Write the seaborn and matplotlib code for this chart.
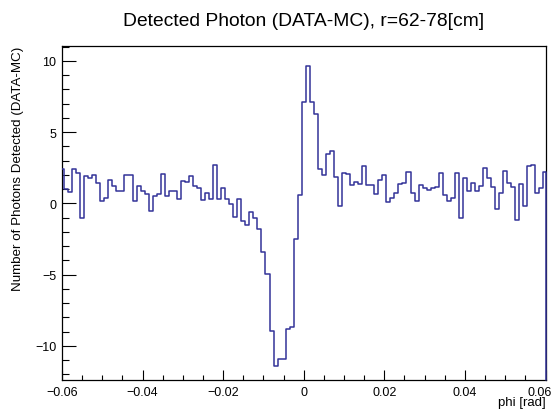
import numpy as np
import pandas as pd
import matplotlib
matplotlib.use("Agg")
import matplotlib.pyplot as plt
import matplotlib.transforms as mtransforms
import seaborn as sns
from matplotlib.ticker import MultipleLocator

# ---- data -------------------------------------------------------------
# bin centres of the phi histogram (rad), 121 bins of width 0.001
phi_centers = np.round(np.arange(-60, 61) * 0.001, 4)
bin_width = 0.001

# DATA - MC difference per bin
diff = [
    2.39, 1.03, 0.80, 2.44, 2.16, -1.00, 1.92, 1.81, 1.97, 1.46,
    0.16, 0.40, 1.64, 1.22, 0.87, 0.87, 1.97, 1.97, 0.16, 1.22,
    0.85, 0.63, -0.54, 0.52, 0.63, 2.04, 0.55, 0.85, 0.90, 0.30,
    1.60, 1.50, 1.90, 1.20, 1.10, 0.25, 0.72, 0.28, 2.70, 0.28,
    1.08, 0.28, -0.07, -0.98, 0.34, -1.25, -1.55, -0.58, -1.03, -1.80,
    -3.43, -4.93, -8.95, -11.40, -10.90, -10.90, -8.80, -8.70, -2.52, 0.62,
    7.10, 9.67, 7.10, 6.30, 2.40, 2.02, 3.45, 3.70, 1.85, -0.19,
    2.15, 2.05, 1.27, 1.52, 1.36, 2.60, 1.30, 1.27, 0.66, 1.66,
    2.02, 0.10, 0.40, 0.75, 1.34, 1.41, 2.20, 0.75, 0.16, 1.27,
    1.10, 0.94, 1.06, 1.18, 2.16, 0.56, 0.16, 0.40, 2.14, -1.00,
    1.79, 0.86, 1.40, 0.90, 1.20, 2.48, 1.79, 1.16, -0.40, 0.75,
    2.30, 1.46, 1.16, -1.20, 1.38, -0.19, 2.60, 2.70, 0.75, 1.10,
    2.20,
]

title = "Detected Photon (DATA-MC), r=62-78[cm]"
xlabel = "phi [rad]"
ylabel = "Number of Photons Detected (DATA-MC)"
x_ticks = [-0.06, -0.04, -0.02, 0.0, 0.02, 0.04, 0.06]
x_tick_labels = ["\u22120.06", "\u22120.04", "\u22120.02", "0", "0.02", "0.04", "0.06"]
y_ticks = [-10, -5, 0, 5, 10]

# ---- style ------------------------------------------------------------
sns.set_theme(style="ticks")
plt.rcParams["font.family"] = ["Liberation Sans", "DejaVu Sans"]
plt.rcParams["axes.unicode_minus"] = True
plt.rcParams["text.color"] = "black"
plt.rcParams["axes.labelcolor"] = "black"

XMIN, XMAX = -0.06, 0.06
YMIN, YMAX = -12.4, 11.05
LINE_COLOR = "#333399"

fig = plt.figure(figsize=(5.56, 4.10), dpi=100)
ax = fig.add_axes([62 / 556, 1 - 381 / 410, (545.5 - 62) / 556, (381 - 47) / 410])

df = pd.DataFrame({"phi": phi_centers, "diff": diff})
edges = [float(e) for e in np.append(phi_centers - bin_width / 2,
                                     phi_centers[-1] + bin_width / 2)]
sns.histplot(data=df, x="phi", weights="diff", bins=edges, element="step",
             fill=False, color=LINE_COLOR, linewidth=1.1, ax=ax, zorder=3)

ax.set_xlim(XMIN, XMAX)
ax.set_ylim(YMIN, YMAX)

# outline drop at the right frame edge (ROOT style)
ax.plot([XMAX, XMAX], [YMIN, diff[-1]], color=LINE_COLOR, linewidth=1.1,
        clip_on=False, zorder=4)

for s in ["left", "right", "top", "bottom"]:
    ax.spines[s].set_visible(True)
    ax.spines[s].set_color("black")
    ax.spines[s].set_linewidth(0.9)

ax.set_xticks(x_ticks)
ax.set_xticklabels(x_tick_labels)
ax.set_yticks(y_ticks)
ax.xaxis.set_minor_locator(MultipleLocator(0.005))
ax.yaxis.set_minor_locator(MultipleLocator(1))
ax.tick_params(axis="both", which="both", direction="in", top=False, right=False,
               labelsize=9, colors="black", width=0.8)
ax.tick_params(axis="x", which="major", length=7.2, pad=4)
ax.tick_params(axis="x", which="minor", length=3.6)
ax.tick_params(axis="y", which="major", length=10.3, pad=4)
ax.tick_params(axis="y", which="minor", length=5.0)

# keep the last x tick label inside the figure
last = ax.get_xticklabels()[-1]
last.set_transform(last.get_transform() +
                   mtransforms.ScaledTranslation(-6 / 100, 0, fig.dpi_scale_trans))

ax.set_xlabel(xlabel, fontsize=9.5, loc="right", color="black")
ax.xaxis.set_label_coords(1.0, -0.048)
ax.xaxis.label.set_va("top")
ax.set_ylabel(ylabel, fontsize=9.6, loc="top", color="black")
ax.yaxis.set_label_coords(-0.079, 1.0)

fig.text(303.5 / 556, 1 - 22 / 410, title, ha="center", va="center",
         fontsize=13.9, color="black")

fig.savefig("out.png", dpi=100, facecolor="white")
